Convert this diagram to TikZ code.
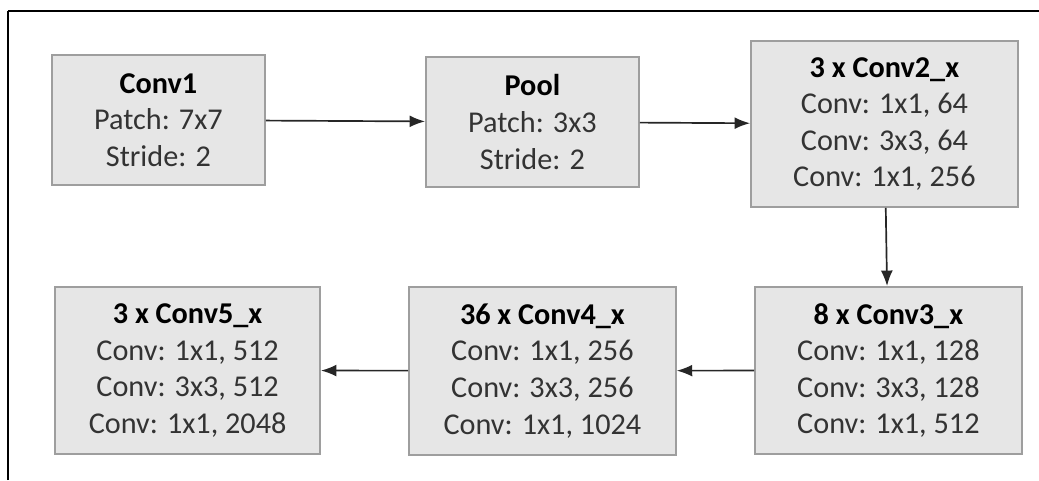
\documentclass[tikz,border=0pt]{standalone}
\usepackage{fontspec}
\setmainfont{Carlito}
\usetikzlibrary{arrows.meta}

\begin{document}
\begin{tikzpicture}[
    block/.style={draw=rahmen, fill=fuellung, line width=1.1pt, text=black!80, align=center,
      inner sep=0pt, font=\fontsize{21.5}{26}\selectfont},
    pfeil/.style={draw=black!85, line width=1.2pt, -{Latex[length=11pt,width=8.5pt]}}]
    \definecolor{fuellung}{HTML}{E6E6E6}
    \definecolor{rahmen}{HTML}{9E9E9E}
    \useasboundingbox (0cm,0cm) rectangle (25.975cm,12cm);  %Bildgroesse
    \draw[line width=1.4pt] (0.2cm,11.725cm) -- (25.975cm,11.725cm);  %oberer Rand
    \draw[line width=1.4pt] (0.2cm,0cm) -- (0.2cm,11.725cm);  %linker Rand
    \node[block, minimum width=5.33cm, minimum height=3.25cm] (conv1) at (3.96cm,9.0cm)
      {\textbf{\color{black}Conv1}\\Patch: 7x7\\Stride: 2};
    \node[block, minimum width=5.33cm, minimum height=3.25cm] (pool) at (13.31cm,8.95cm)
      {\textbf{\color{black}Pool}\\Patch: 3x3\\Stride: 2};
    \node[block, minimum width=6.68cm, minimum height=4.16cm] (conv2) at (22.11cm,8.9cm)
      {\textbf{\color{black}3 x Conv2\_x}\\Conv: 1x1, 64\\Conv: 3x3, 64\\Conv: 1x1, 256};
    \node[block, minimum width=6.68cm, minimum height=4.18cm] (conv3) at (22.21cm,2.74cm)
      {\textbf{\color{black}8 x Conv3\_x}\\Conv: 1x1, 128\\Conv: 3x3, 128\\Conv: 1x1, 512};
    \node[block, minimum width=6.68cm, minimum height=4.2cm] (conv4) at (13.56cm,2.73cm)
      {\textbf{\color{black}36 x Conv4\_x}\\Conv: 1x1, 256\\Conv: 3x3, 256\\Conv: 1x1, 1024};
    \node[block, minimum width=6.63cm, minimum height=4.18cm] (conv5) at (4.69cm,2.74cm)
      {\textbf{\color{black}3 x Conv5\_x}\\Conv: 1x1, 512\\Conv: 3x3, 512\\Conv: 1x1, 2048};
    \foreach \von/\nach in {conv1/pool, pool/conv2, conv2/conv3, conv3/conv4, conv4/conv5}  %Verbindungen
      \draw[pfeil] (\von) -- (\nach);
\end{tikzpicture}
\end{document}
